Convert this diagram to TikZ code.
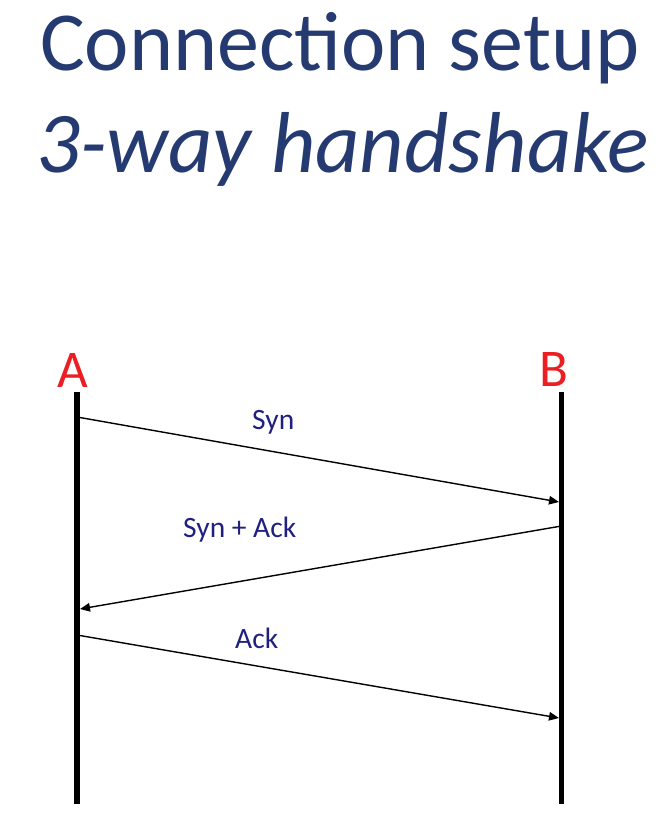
\documentclass[tikz,border=0pt]{standalone}
\usepackage{fontspec}
\setmainfont{Carlito}
\usetikzlibrary{arrows.meta,positioning}
\definecolor{titleblue}{RGB}{36,58,112}
\definecolor{msgblue}{RGB}{32,32,128}
\definecolor{hostred}{RGB}{235,30,35}

\begin{document}
\begin{tikzpicture}[x=1pt, y=-1pt,
    headline/.style={font=\fontsize{84}{90}\selectfont, text=titleblue, anchor=base west, inner sep=0pt},
    host/.style={font=\fontsize{53}{60}\selectfont, text=hostred, anchor=base, inner sep=0pt},
    lifeline/.style={line width=5.5pt, black},
    msg/.style={line width=1.4pt, black, -{Triangle[length=10pt, width=8.5pt]}},
    msglabel/.style={font=\fontsize{29.5}{32}\selectfont, text=msgblue, anchor=base west, inner sep=0pt}
]

\useasboundingbox (0,0) rectangle (663,822);

% Title
\node[headline] (title1) at (40,70) {Connection setup};
\node[headline, font=\fontsize{86.5}{90}\selectfont\itshape] (title2) at (36,172) {3-way handshake};

% End points
\node[host] (A) at (73,387) {A};
\node[host] (B) at (554,386) {B};

% Lifelines
\coordinate (Atop) at (77,392);
\coordinate (Abot) at (77,804);
\coordinate (Btop) at (561.5,392);
\coordinate (Bbot) at (561.5,804);
\draw[lifeline] (Atop) -- (Abot);
\draw[lifeline] (Btop) -- (Bbot);

% Messages
\coordinate (synA) at (77,417);
\coordinate (synB) at (559,502);
\coordinate (synackB) at (561.5,526);
\coordinate (synackA) at (80,609);
\coordinate (ackA) at (77,635);
\coordinate (ackB) at (559,718);

\draw[msg] (synA) -- (synB);
\draw[msg] (synackB) -- (synackA);
\draw[msg] (ackA) -- (ackB);

% Message labels
\node[msglabel] (syn) at (252,429) {Syn};
\node[msglabel] (synack) at (183,537) {Syn + Ack};
\node[msglabel] (ack) at (235,648) {Ack};

\end{tikzpicture}
\end{document}
